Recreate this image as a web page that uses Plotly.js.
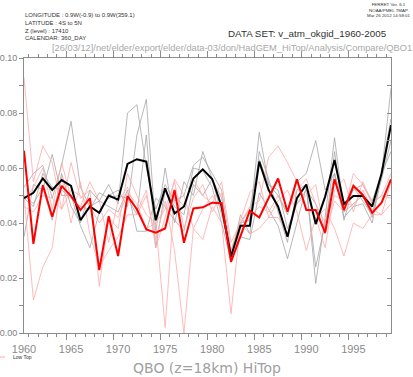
<!DOCTYPE html>
<html><head><meta charset="utf-8">
<script src="https://cdn.plot.ly/plotly-3.0.1.min.js"></script>
<style>html,body{margin:0;padding:0;background:#fff}#chart{width:413px;height:377px}</style>
</head><body><div id="chart"></div>
<script>
const years = [1960,1961,1962,1963,1964,1965,1966,1967,1968,1969,1970,1971,1972,1973,1974,1975,1976,1977,1978,1979,
               1980,1981,1982,1983,1984,1985,1986,1987,1988,1989,1990,1991,1992,1993,1994,1995,1996,1997,1998,1999];
const yearLabels = ['1960','1965','1970','1975','1980','1985','1990','1995'];

const hiTopMean = [0.049,0.051,0.0562,0.052,0.0556,0.0535,0.041,0.046,0.0437,0.050,0.0485,0.0615,0.0632,0.0623,0.041,0.0526,0.0435,0.046,0.0562,0.0595,
                   0.056,0.046,0.0278,0.039,0.039,0.0623,0.052,0.046,0.035,0.049,0.054,0.0396,0.0496,0.0629,0.0469,0.0498,0.0498,0.046,0.058,0.0756];
const lowTopMean = [0.0663,0.0324,0.0538,0.0423,0.0535,0.0498,0.0447,0.049,0.0229,0.0425,0.028,0.0498,0.045,0.0377,0.0365,0.038,0.052,0.0328,0.0453,0.0457,
                    0.0474,0.0472,0.0259,0.0356,0.0445,0.042,0.0493,0.0562,0.0441,0.0559,0.0447,0.0447,0.0365,0.0559,0.0447,0.0535,0.0502,0.0437,0.0474,0.0559];

const hiTop1 = [0.053,0.058,0.061,0.049,0.061,0.077,0.053,0.046,0.048,0.054,0.047,0.080,0.083,0.060,0.045,0.054,0.048,0.050,0.061,0.064,
                0.058,0.052,0.030,0.040,0.041,0.073,0.054,0.050,0.043,0.055,0.058,0.070,0.052,0.058,0.046,0.052,0.054,0.048,0.058,0.089];
const hiTop2 = [0.035,0.054,0.052,0.065,0.050,0.050,0.039,0.031,0.044,0.050,0.052,0.046,0.072,0.085,0.037,0.060,0.040,0.055,0.050,0.066,
                0.056,0.049,0.027,0.043,0.036,0.066,0.056,0.044,0.033,0.052,0.054,0.018,0.042,0.071,0.044,0.047,0.050,0.042,0.059,0.078];
const hiTop3 = [0.049,0.046,0.058,0.053,0.052,0.049,0.046,0.045,0.051,0.049,0.050,0.049,0.043,0.072,0.031,0.052,0.046,0.043,0.060,0.059,
                0.053,0.040,0.026,0.040,0.045,0.063,0.054,0.052,0.038,0.047,0.052,0.047,0.036,0.066,0.041,0.053,0.048,0.043,0.056,0.070];
const hiTop4 = [0.050,0.047,0.053,0.041,0.058,0.046,0.040,0.052,0.048,0.046,0.044,0.052,0.037,0.037,0.049,0.046,0.041,0.037,0.054,0.050,
                0.056,0.043,0.029,0.035,0.034,0.051,0.045,0.039,0.027,0.040,0.053,0.024,0.040,0.058,0.042,0.046,0.047,0.040,0.058,0.066];

const lowTop1 = [0.093,0.055,0.068,0.062,0.045,0.062,0.049,0.052,0.017,0.042,0.038,0.058,0.050,0.043,0.040,0.002,0.050,0.046,0.056,0.050,
                 0.047,0.055,0.033,0.040,0.046,0.048,0.064,0.068,0.062,0.055,0.046,0.042,0.031,0.052,0.056,0.044,0.055,0.047,0.050,0.058];
const lowTop2 = [0.050,0.012,0.024,0.031,0.057,0.040,0.055,0.036,0.024,0.030,0.035,0.043,0.043,0.050,0.034,0.048,0.030,0.000,0.038,0.034,
                 0.046,0.040,0.007,0.040,0.036,0.038,0.042,0.048,0.052,0.044,0.030,0.042,0.045,0.038,0.028,0.040,0.038,0.043,0.043,0.055];
const lowTop3 = [0.048,0.053,0.060,0.045,0.062,0.049,0.046,0.055,0.048,0.033,0.048,0.053,0.044,0.052,0.031,0.042,0.056,0.050,0.038,0.045,
                 0.050,0.045,0.030,0.041,0.051,0.055,0.042,0.042,0.036,0.047,0.050,0.054,0.036,0.048,0.044,0.058,0.054,0.047,0.050,0.049];
const lowTop4 = [0.046,0.044,0.050,0.049,0.045,0.052,0.050,0.046,0.040,0.045,0.042,0.051,0.047,0.038,0.040,0.045,0.055,0.038,0.049,0.054,
                 0.044,0.051,0.026,0.038,0.042,0.046,0.044,0.050,0.044,0.052,0.056,0.047,0.040,0.050,0.048,0.046,0.052,0.045,0.043,0.047];

const xMid = years.map(y => y + 0.5);
const thin = (y, c) => ({x: xMid, y: y, type: 'scatter', mode: 'lines', line: {color: c, width: 0.8}, hoverinfo: 'skip', showlegend: false});
const GRAY = '#a6a6a6', PINK = '#ffaaaa';
const traces = [
  thin(hiTop1, GRAY), thin(hiTop2, GRAY), thin(hiTop3, GRAY), thin(hiTop4, GRAY),
  thin(lowTop1, PINK), thin(lowTop2, PINK), thin(lowTop3, PINK), thin(lowTop4, PINK),
  {x: xMid, y: hiTopMean, type: 'scatter', mode: 'lines', line: {color: '#000', width: 2}, showlegend: false},
  {x: xMid, y: lowTopMean, type: 'scatter', mode: 'lines', line: {color: '#ff0000', width: 2}, showlegend: false},
  {x: [xMid[0]], y: [hiTopMean[0]], xaxis: 'x2', yaxis: 'y', mode: 'markers', marker: {opacity: 0}, hoverinfo: 'skip', showlegend: false},
  {x: [xMid[0]], y: [hiTopMean[0]], xaxis: 'x3', yaxis: 'y2', mode: 'markers', marker: {opacity: 0}, hoverinfo: 'skip', showlegend: false}
];

const AX = '#8c8c8c';
const xr = [years[0] + 0.5, years[years.length - 1] + 0.5];
const tickAxis = (side) => ({
  overlaying: 'x', side: side, anchor: side === 'top' ? 'y2' : 'y', range: xr,
  showticklabels: false, showgrid: false, zeroline: false,
  showline: side === 'top', linecolor: AX, linewidth: 1,
  ticks: 'outside', tick0: 1960, dtick: 5, ticklen: 6, tickcolor: AX, tickwidth: 1,
  minor: {ticks: 'outside', tick0: 1960, dtick: 1, ticklen: 3, tickcolor: AX, tickwidth: 1, showgrid: false}
});

const small = {family: 'Liberation Sans, Arial, sans-serif', color: '#333'};
const layout = {
  width: 413, height: 377,
  margin: {l: 24, r: 22, t: 58, b: 44, pad: 0},
  paper_bgcolor: '#fff', plot_bgcolor: '#fff',
  showlegend: false,
  xaxis: {
    range: xr, tickvals: yearLabels.map(s => +s + 0.5), ticktext: yearLabels,
    ticks: '', ticklabelstandoff: 6, showgrid: false, zeroline: false,
    showline: true, linecolor: AX, linewidth: 1,
    tickfont: {family: 'Liberation Sans, Arial, sans-serif', size: 11, color: '#8a8a8a'}
  },
  xaxis2: tickAxis('bottom'),
  xaxis3: tickAxis('top'),
  yaxis: {
    range: [0, 0.1], tick0: 0, dtick: 0.02, tickformat: '.2f',
    ticks: 'outside', ticklen: 4, tickcolor: AX, showgrid: false, zeroline: false,
    showline: true, linecolor: AX, linewidth: 1,
    minor: {ticks: 'outside', dtick: 0.01, ticklen: 4, tickcolor: AX, showgrid: false},
    tickfont: {family: 'Liberation Sans, Arial, sans-serif', size: 9, color: '#808080'}
  },
  yaxis2: {
    overlaying: 'y', side: 'right', anchor: 'x', range: [0, 0.1],
    tick0: 0, dtick: 0.01, ticks: 'inside', ticklen: 4, tickcolor: AX,
    showticklabels: false, showgrid: false, zeroline: false,
    showline: true, linecolor: AX, linewidth: 1
  },
  annotations: [
    {xref: 'paper', yref: 'paper', x: -0.003, y: (333 - 10) / 275, xanchor: 'left', yanchor: 'top', align: 'left', showarrow: false,
     text: 'LONGITUDE : 0.9W(-0.9) to 0.9W(359.1)<br>LATITUDE : 4S to 5N<br>Z (level) : 17410<br>CALENDAR: 360_DAY',
     font: Object.assign({size: 6}, small)},
    {xref: 'paper', yref: 'paper', x: (389 - 24) / 367, y: (333 - 0) / 275, xanchor: 'center', yanchor: 'top', align: 'center', showarrow: false,
     text: 'FERRET Ver. 6.1<br>NOAA/PMEL TMAP<br>Mar 26 2012 14:58:01',
     font: Object.assign({size: 4.4}, small)},
    {xref: 'paper', yref: 'paper', x: (389 - 24) / 367, y: (333 - 33) / 275, xanchor: 'right', yanchor: 'middle', showarrow: false,
     text: 'DATA SET: v_atm_okgid_1960-2005',
     font: {family: 'Liberation Sans, Arial, sans-serif', size: 9.8, color: '#333'}},
    {xref: 'paper', yref: 'paper', x: (232 - 24) / 367, y: (333 - 48) / 275, xanchor: 'center', yanchor: 'middle', showarrow: false,
     text: '[26/03/12]/net/elder/export/elder/data-03/don/HadGEM_HiTop/Analysis/Compare/QBO1',
     font: {family: 'Liberation Sans, Arial, sans-serif', size: 9.3, color: '#a8a8a8'}},
    {xref: 'paper', yref: 'paper', x: (11 - 24) / 367, y: (333 - 357) / 275, xanchor: 'left', yanchor: 'middle', showarrow: false,
     text: 'Low Top', font: Object.assign({size: 5}, small)},
    {xref: 'paper', yref: 'paper', x: (207 - 24) / 367, y: (333 - 368) / 275, xanchor: 'center', yanchor: 'middle', showarrow: false,
     text: 'QBO (z=18km) HiTop',
     font: {family: 'DejaVu Sans, sans-serif', size: 14, color: '#a0a0a0'}}
  ],
  shapes: [
    {type: 'line', xref: 'paper', yref: 'paper', x0: (0 - 24) / 367, x1: (5 - 24) / 367, y0: (333 - 357) / 275, y1: (333 - 357) / 275,
     line: {color: PINK, width: 1}}
  ]
};
Plotly.newPlot('chart', traces, layout, {staticPlot: true, displayModeBar: false});
</script></body></html>
